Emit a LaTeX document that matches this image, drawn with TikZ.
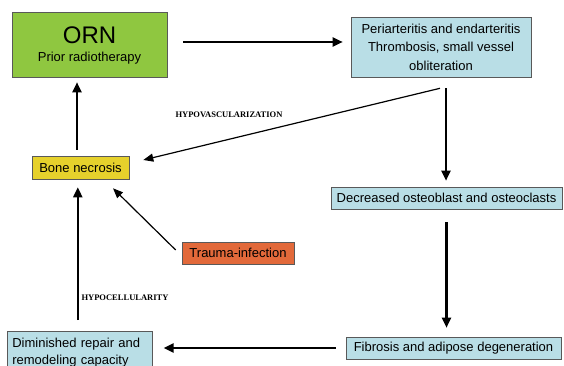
\documentclass[tikz,border=0pt]{standalone}
\usepackage{fontspec}
\setmainfont{Liberation Sans}
\newfontfamily\labfont{Liberation Serif}
\usetikzlibrary{arrows.meta}
\definecolor{orngreen}{HTML}{8FC740}
\definecolor{boxblue}{HTML}{B9DEE6}
\definecolor{boneyellow}{HTML}{E6D12C}
\definecolor{traumaorange}{HTML}{E2693A}
\tikzset{
  box/.style={draw=black!65, line width=0.6pt, inner sep=2pt, align=center,
    font=\fontsize{13}{17}\selectfont, text=black},
  arr/.style={line width=2.1pt, -{Triangle[length=10pt,width=9pt]}},
  thinarr/.style={line width=1.2pt, -{Triangle[length=10pt,width=8pt]}},
  lab/.style={font=\labfont\bfseries\fontsize{8.5}{10}\selectfont}
}
\begin{document}
\begin{tikzpicture}[x=1pt,y=-1pt]
\useasboundingbox (0,0) rectangle (564,366);
\fill[white] (0,0) rectangle (564,366);
\node[box, fill=orngreen, minimum width=155pt, minimum height=65pt, text depth=-3pt] (orn) at (89.5,44.5)
  {{\fontsize{24}{26}\selectfont ORN}\\[1pt] Prior radiotherapy};
\node[box, fill=boxblue, minimum width=180pt, minimum height=60pt,
  font=\fontsize{13}{18.5}\selectfont] (peri) at (441,47)
  {Periarteritis and endarteritis\\ Thrombosis, small vessel\\ obliteration};
\node[box, fill=boneyellow, minimum width=97pt, minimum height=23pt] (bone) at (80.5,167.5) {Bone necrosis};
\node[box, fill=boxblue, minimum width=231pt, minimum height=22pt] (decr) at (446.5,198) {Decreased osteoblast and osteoclasts};
\node[box, fill=traumaorange, minimum width=112pt, minimum height=22pt] (trauma) at (238,253) {Trauma-infection};
\node[box, fill=boxblue, minimum width=215pt, minimum height=22pt] (fibro) at (453.5,348) {Fibrosis and adipose degeneration};
\node[box, fill=boxblue, minimum width=145pt, minimum height=42pt, align=left,
  inner xsep=5pt, text width=135pt, anchor=north west] (dim) at (7,331) {Diminished repair and\\ remodeling capacity};
\node[lab] (hv) at (229,115) {HYPOVASCULARIZATION};
\node[lab] (hc) at (125,298) {HYPOCELLULARITY};
% connectors
\draw[arr, shorten <=16pt, shorten >=8pt] ([yshift=2.5pt]orn.east) -- ([yshift=2.5pt]orn.east -| peri.west);
\draw[arr, shorten <=6pt, shorten >=5pt] ([xshift=-3.5pt]bone.north) -- ([xshift=-3.5pt]bone.north |- orn.south);
\draw[thinarr] ([shift={(-1pt,-11pt)}]peri.south) -- ([shift={(14pt,7.5pt)}]bone.east);
\draw[arr, shorten <=11pt, shorten >=6pt] ([xshift=5pt]peri.south) -- ([xshift=5pt]peri.south |- decr.north);
\draw[arr, shorten <=13pt, shorten >=9pt] (decr.south) -- (decr.south |- fibro.north);
\draw[arr, shorten <=10pt, shorten >=11pt] (fibro.west) -- (fibro.west -| dim.east);
\draw[arr, shorten <=11pt, shorten >=8pt] ([xshift=-2pt]dim.north) -- ([xshift=-2pt]dim.north |- bone.south);
\draw[thinarr] ([shift={(-6pt,3pt)}]trauma.west) -- ([shift={(32.5pt,-9pt)}]bone.south);
\end{tikzpicture}
\end{document}
